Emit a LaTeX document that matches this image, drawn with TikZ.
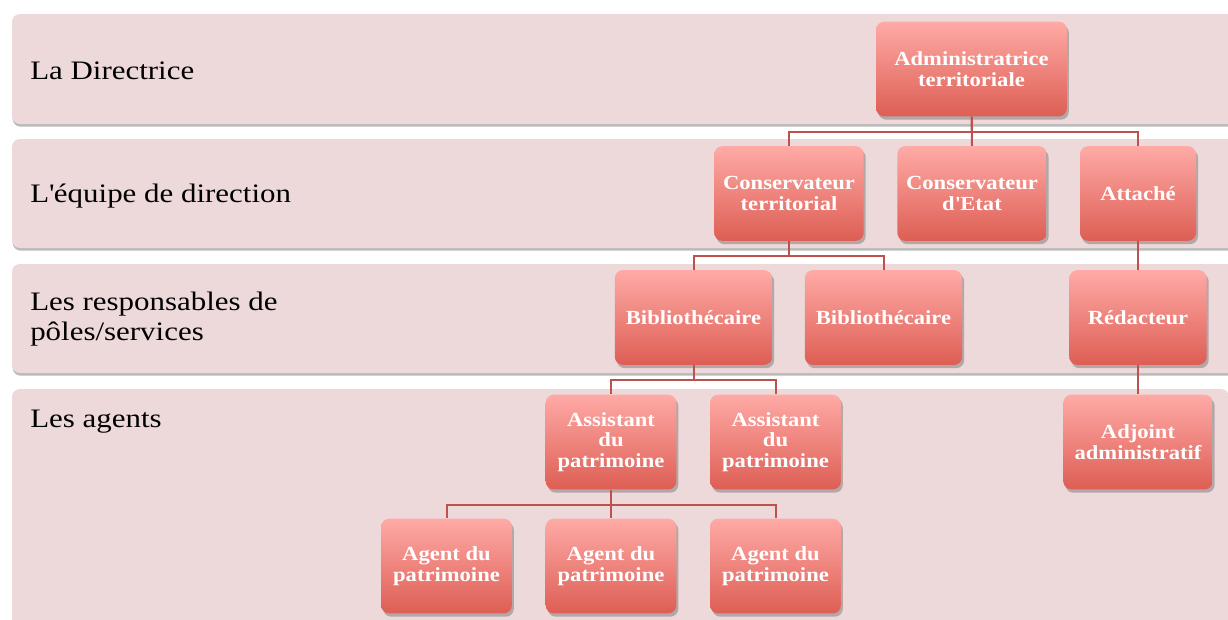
\documentclass[tikz,border=0pt]{standalone}
\usepackage{fontspec}
\setmainfont{Liberation Serif}
\newfontfamily\boxfont[FakeStretch=1.13]{Liberation Serif}
\newfontfamily\labfont[FakeStretch=1.16]{Liberation Serif}
\usetikzlibrary{shadows,calc}
\definecolor{bandfill}{RGB}{237,217,218}
\definecolor{boxtop}{RGB}{255,170,166}
\definecolor{boxbot}{RGB}{221,94,84}
\definecolor{linkcol}{RGB}{190,80,77}
\tikzset{
  band/.style={fill=bandfill,rounded corners=6pt,
    drop shadow={shadow xshift=0.5pt,shadow yshift=-2pt,opacity=0.45,fill=black!60}},
  bandlabel/.style={anchor=west,inner sep=0pt,font=\labfont\fontsize{20}{22}\selectfont,align=left,text=black},
  unit/.style={rounded corners=6pt,top color=boxtop,bottom color=boxbot,
    text=white,font=\boxfont\bfseries\fontsize{15}{15.5}\selectfont,align=center,
    minimum height=71pt,inner sep=2pt,
    drop shadow={shadow xshift=1.5pt,shadow yshift=-2.5pt,opacity=0.35,fill=black!70}},
  link/.style={draw=linkcol,line width=1.5pt}
}
\begin{document}
\begin{tikzpicture}[x=0.75pt,y=-0.75pt]
\useasboundingbox (0,0) rectangle (1228,619);
\fill[white] (0,0) rectangle (1228,619);
% bands
\path[band] (12,14) rectangle (1245,124);
\path[band] (12,139) rectangle (1245,248);
\path[band] (12,264) rectangle (1245,373);
\path[band] (12,389) rectangle (1229,640);
% band labels
\node[bandlabel] (l1) at (30,71) {La Directrice};
\node[bandlabel] (l2) at (30,196) {L\textquotesingle équipe de direction};
\node[bandlabel] (l3) at (30,319) {Les responsables de\\pôles/services};
\node[bandlabel] (l4) at (30,422) {Les agents};
% boxes
\node[unit,minimum width=143pt] (adm) at (971.5,69) {Administratrice\\territoriale};
\node[unit,minimum width=112pt] (ct) at (789,193.5) {Conservateur\\territorial};
\node[unit,minimum width=112pt] (ce) at (972,193.5) {Conservateur\\d\textquotesingle Etat};
\node[unit,minimum width=87pt] (att) at (1138,193.5) {Attaché};
\node[unit,minimum width=118pt] (b1) at (693.5,317.5) {Bibliothécaire};
\node[unit,minimum width=118pt] (b2) at (883.5,317.5) {Bibliothécaire};
\node[unit,minimum width=103pt] (red) at (1138,317.5) {Rédacteur};
\node[unit,minimum width=98pt] (as1) at (611,442) {Assistant\\du\\patrimoine};
\node[unit,minimum width=98pt] (as2) at (775.5,442) {Assistant\\du\\patrimoine};
\node[unit,minimum width=112pt] (adj) at (1138,442) {Adjoint\\administratif};
\node[unit,minimum width=98pt] (ag1) at (446.5,566) {Agent du\\patrimoine};
\node[unit,minimum width=98pt] (ag2) at (611,566) {Agent du\\patrimoine};
\node[unit,minimum width=98pt] (ag3) at (775.5,566) {Agent du\\patrimoine};
% links
\draw[link] (adm.south) -- ++(0,15) -| (ct.north);
\draw[link] (adm.south) -- ++(0,15) -| (att.north);
\draw[link] (adm.south) -- (ce.north);
\draw[link] (ct.south) -- ++(0,15) -| (b1.north);
\draw[link] (ct.south) -- ++(0,15) -| (b2.north);
\draw[link] (att.south) -- (red.north);
\draw[link] (red.south) -- (adj.north);
\draw[link] (b1.south) -- ++(0,15) -| (as1.north);
\draw[link] (b1.south) -- ++(0,15) -| (as2.north);
\draw[link] (as1.south) -- ++(0,15) -| (ag1.north);
\draw[link] (as1.south) -- ++(0,15) -| (ag3.north);
\draw[link] (as1.south) -- (ag2.north);
\end{tikzpicture}
\end{document}
